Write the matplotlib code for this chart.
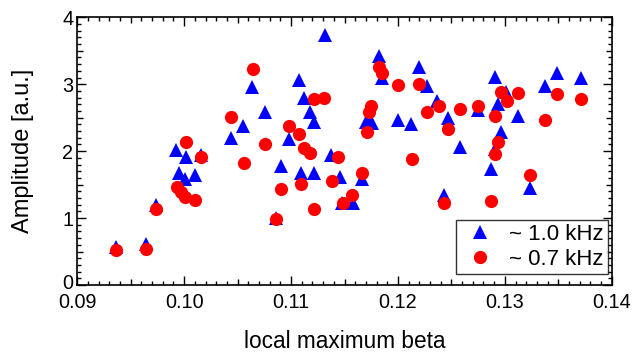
import matplotlib
matplotlib.use("Agg")
import matplotlib.pyplot as plt
import matplotlib.transforms as mtransforms
from matplotlib.ticker import MultipleLocator, FuncFormatter

plt.rcParams['font.family'] = ['Liberation Sans', 'DejaVu Sans']

# ~1.0 kHz mode (blue triangles)
beta_1k = [0.0936, 0.0964, 0.0974, 0.0992, 0.0995, 0.1001, 0.1002, 0.1010, 0.1016,
           0.1044, 0.1055, 0.1063, 0.1076, 0.1086, 0.1091, 0.1098, 0.1107, 0.1109,
           0.1112, 0.1118, 0.1121, 0.1121, 0.1132, 0.1137, 0.1146, 0.1148, 0.1158,
           0.1166, 0.1170, 0.1173, 0.1176, 0.1182, 0.1185, 0.1200, 0.1212, 0.1220,
           0.1227, 0.1237, 0.1243, 0.1247, 0.1258, 0.1275, 0.1287, 0.1291, 0.1291,
           0.1294, 0.1296, 0.1301, 0.1312, 0.1324, 0.1338, 0.1349, 0.1371]
amp_1k = [0.57, 0.61, 1.20, 2.02, 1.67, 1.59, 1.92, 1.64, 1.94,
          2.19, 2.38, 2.96, 2.59, 1.00, 1.78, 2.18, 3.06, 1.67,
          2.80, 2.59, 1.67, 2.44, 3.74, 1.94, 1.62, 1.23, 1.23,
          1.58, 2.44, 2.44, 2.42, 3.42, 3.09, 2.47, 2.41, 3.26,
          2.97, 2.75, 1.34, 2.49, 2.06, 2.62, 1.74, 3.11, 2.03,
          2.71, 2.29, 2.89, 2.53, 1.45, 2.98, 3.17, 3.09]

# ~0.7 kHz mode (red circles)
beta_07k = [0.0936, 0.0964, 0.0974, 0.0993, 0.0997, 0.1001, 0.1010, 0.1002, 0.1016,
            0.1044, 0.1056, 0.1064, 0.1076, 0.1086, 0.1091, 0.1098, 0.1107, 0.1109,
            0.1112, 0.1118, 0.1121, 0.1121, 0.1131, 0.1138, 0.1144, 0.1149, 0.1157,
            0.1166, 0.1171, 0.1173, 0.1175, 0.1182, 0.1185, 0.1200, 0.1213, 0.1220,
            0.1227, 0.1238, 0.1247, 0.1243, 0.1258, 0.1275, 0.1287, 0.1291, 0.1291,
            0.1294, 0.1296, 0.1302, 0.1312, 0.1324, 0.1338, 0.1349, 0.1371]
amp_07k = [0.52, 0.54, 1.14, 1.46, 1.39, 1.32, 1.27, 2.13, 1.91,
           2.51, 1.83, 3.23, 2.11, 0.98, 1.43, 2.38, 2.25, 1.51,
           2.05, 1.97, 1.14, 2.78, 2.79, 1.56, 1.92, 1.23, 1.35,
           1.68, 2.28, 2.59, 2.67, 3.25, 3.17, 2.99, 1.88, 3.01,
           2.59, 2.67, 2.33, 1.23, 2.63, 2.68, 1.25, 2.52, 1.96,
           2.14, 2.89, 2.75, 2.87, 1.65, 2.46, 2.86, 2.78]

fig = plt.figure(figsize=(6.32, 3.53), dpi=100)
ax = fig.add_axes([0.1223, 0.1926, 0.8456, 0.7584])

ax.plot(beta_1k, amp_1k, linestyle="none", marker="^", ms=10, color="#0000ff",
        markeredgewidth=0, label="~ 1.0 kHz")
ax.plot(beta_07k, amp_07k, linestyle="none", marker="o", ms=9.5, color="#ff0000",
        markeredgewidth=0, label="~ 0.7 kHz")

ax.set_xlim(0.09, 0.14)
ax.set_ylim(0, 4)

# major ticks every half-step, labels only on the full steps
ax.xaxis.set_major_locator(MultipleLocator(0.005))
ax.xaxis.set_minor_locator(MultipleLocator(0.001))
ax.yaxis.set_major_locator(MultipleLocator(0.5))
ax.yaxis.set_minor_locator(MultipleLocator(0.1))
ax.xaxis.set_major_formatter(FuncFormatter(
    lambda v, p: "%.2f" % v if abs(v / 0.01 - round(v / 0.01)) < 1e-6 else ""))
ax.yaxis.set_major_formatter(FuncFormatter(
    lambda v, p: "%d" % round(v) if abs(v - round(v)) < 1e-6 else ""))

ax.tick_params(which="both", direction="in", top=True, right=True, width=1,
               labelsize=14.3, colors="black")
ax.tick_params(which="major", length=6.5)
ax.tick_params(axis="x", which="major", pad=5.5)
ax.tick_params(axis="y", which="major", pad=3)
ax.tick_params(which="minor", length=3)

# shorten the half-step ticks
fig.canvas.draw()
for axis, step in ((ax.xaxis, 0.01), (ax.yaxis, 1.0)):
    locs = axis.get_majorticklocs()
    for loc, t in zip(locs, axis.get_major_ticks(len(locs))):
        if abs(loc / step - round(loc / step)) > 1e-6:
            t.tick1line.set_markersize(4.5)
            t.tick2line.set_markersize(4.5)

# lift the "0" label a touch so it clears "0.09"
ylocs = ax.yaxis.get_majorticklocs()
for loc, t in zip(ylocs, ax.yaxis.get_major_ticks(len(ylocs))):
    if abs(loc) < 1e-9:
        lbl = t.label1
        lbl.set_transform(lbl.get_transform() +
                          mtransforms.ScaledTranslation(0, 2.5 / 72, fig.dpi_scale_trans))

for s in ax.spines.values():
    s.set_linewidth(1.2)

ax.set_xlabel("local maximum beta", fontsize=16.3, labelpad=13)
ax.set_ylabel("Amplitude [a.u.]", fontsize=17, labelpad=20)

leg = ax.legend(loc="lower right", bbox_to_anchor=(0.993, 0.041), borderaxespad=0,
                fontsize=16, frameon=True, fancybox=False,
                handletextpad=0.4, borderpad=0.2, labelspacing=0.15,
                handlelength=1.8)
leg.get_frame().set_edgecolor("black")
leg.get_frame().set_linewidth(1.0)

fig.savefig("out.png", dpi=100)
